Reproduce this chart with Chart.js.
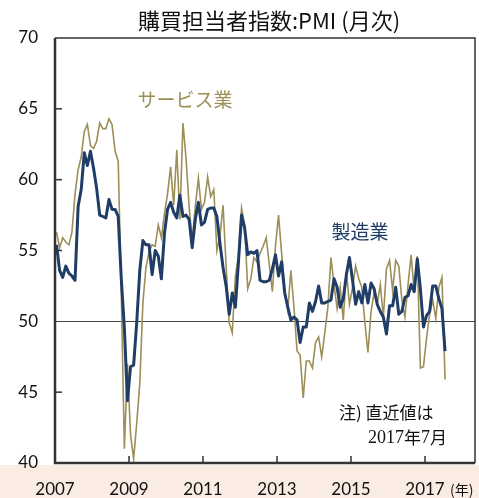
<!DOCTYPE html>
<html><head><meta charset="utf-8">
<script src="https://cdn.jsdelivr.net/npm/chart.js@4"></script>
<style>html,body{margin:0;padding:0;background:#fff}#wrap{width:479px;height:498px}</style>
</head><body><div id="wrap"><canvas id="c" width="479" height="498"></canvas></div>
<script>
const startYear = 2007;
const yearTicks = [2007, 2009, 2011, 2013, 2015, 2017];
const yTicks = [40, 45, 50, 55, 60, 65, 70];
const titleText = "購買担当者指数:PMI (月次)";
const seriesNames = ["製造業", "サービス業"];
// Monthly, Jan 2007 - Jul 2017
const manufacturing = [
  55.4, 53.6, 53.1, 53.9, 53.4, 53.2, 52.9, 58.1, 59.3, 61.9, 61.0, 62.0,
  60.8, 59.4, 57.5, 57.4, 57.3, 58.6, 57.9, 57.9, 57.4, 53.0, 49.5, 44.4,
  46.8, 46.9, 49.9, 53.6, 55.7, 55.4, 55.4, 53.3, 55.0, 54.6, 53.0, 56.2,
  57.9, 58.4, 57.7, 57.3, 58.9, 57.4, 57.5, 57.2, 55.2, 57.2, 58.4, 56.8,
  57.0, 57.9, 58.0, 58.0, 57.4, 55.5, 53.8, 52.5, 50.5, 52.0, 51.0, 54.2,
  57.5, 56.6, 54.7, 54.9, 54.8, 55.0, 52.9, 52.8, 52.8, 52.9, 53.7, 54.7,
  53.2, 54.2, 52.0, 51.0, 50.1, 50.3, 50.1, 48.5, 49.6, 49.6, 51.3, 50.7,
  51.4, 52.5, 51.3, 51.3, 51.4, 51.5, 53.0, 52.4, 51.0, 51.6, 53.3, 54.5,
  52.9, 51.2, 52.1, 51.3, 52.6, 51.3, 52.7, 52.3, 51.2, 50.7, 50.3, 49.1,
  51.1, 51.1, 52.4, 50.5, 50.7, 51.7, 51.8, 52.6, 52.1, 54.4, 52.3, 49.6,
  50.4, 50.7, 52.5, 52.5, 51.6, 50.9, 47.9
];
const services = [
  56.3, 55.2, 55.9, 55.6, 55.4, 56.3, 59.0, 60.7, 61.6, 63.4, 63.9, 62.4,
  62.2, 62.7, 64.0, 63.6, 63.6, 64.3, 63.9, 62.0, 61.3, 52.0, 41.0, 47.0,
  42.0, 40.3, 42.8, 45.6, 51.3, 53.8, 54.9, 55.4, 55.3, 56.8, 55.9, 57.6,
  59.0, 60.9, 58.2, 62.1, 57.2, 64.0, 61.5, 58.1, 55.7, 58.1, 60.1, 57.9,
  58.4, 60.2, 58.8, 59.3, 55.0, 56.0, 58.2, 53.9, 49.9, 49.2, 53.2, 54.6,
  58.0, 56.8, 52.3, 53.0, 54.5, 54.2, 54.8, 55.3, 55.9, 54.0, 52.1, 55.3,
  57.5, 54.8, 52.2, 50.8, 53.6, 51.0, 47.9, 47.6, 44.6, 47.2, 47.2, 46.7,
  48.5, 48.9, 47.5, 49.2, 51.0, 54.5, 52.6, 50.9, 52.4, 50.1, 53.5, 51.2,
  52.4, 53.9, 53.0, 52.4, 49.9, 47.8, 50.7, 52.0, 51.2, 52.6, 50.3, 53.7,
  54.3, 52.2, 54.3, 53.9, 51.5, 50.3, 52.6, 54.7, 52.1, 54.6, 46.7, 46.8,
  48.8, 50.5, 51.5, 50.2, 52.4, 53.1, 45.9
];

const NAVY = "#1f3d66";
const OLIVE = "#9c8f58";
const toPts = arr => arr.map((v, i) => ({ x: startYear + (i + 0.5) / 12, y: v }));

const deco = {
  id: "deco",
  beforeDraw(chart) {
    const c = chart.ctx;
    c.save();
    c.fillStyle = "#ffffff";
    c.fillRect(0, 0, chart.width, chart.height);
    c.fillStyle = "#faece2";
    c.fillRect(0, 465, chart.width, chart.height - 465);
    c.restore();
  },
  beforeDatasetsDraw(chart) {
    const c = chart.ctx, a = chart.chartArea, y = chart.scales.y;
    c.save();
    c.strokeStyle = "#444";
    c.lineWidth = 1;
    const py = Math.round(y.getPixelForValue(50)) + 0.5;
    c.beginPath(); c.moveTo(a.left, py); c.lineTo(a.right, py); c.stroke();
    c.restore();
  },
  afterDraw(chart) {
    const c = chart.ctx, a = chart.chartArea, xs = chart.scales.x, ys = chart.scales.y;
    c.save();
    c.strokeStyle = "#333";
    c.lineWidth = 1.5;
    c.beginPath();
    c.moveTo(a.left, a.top); c.lineTo(a.right, a.top); c.lineTo(a.right, a.bottom);
    c.stroke();
    c.lineWidth = 2.5;
    c.beginPath();
    c.moveTo(a.left, a.top); c.lineTo(a.left, a.bottom); c.lineTo(a.right, a.bottom);
    c.stroke();
    c.lineWidth = 1.5;
    yTicks.forEach(v => {
      if (v === 40 || v === 70 || v === 50) return;
      const py = ys.getPixelForValue(v);
      c.beginPath(); c.moveTo(a.left, py); c.lineTo(a.left + 7, py); c.stroke();
    });
    yearTicks.forEach(v => {
      if (v === startYear) return;
      const px = xs.getPixelForValue(v);
      c.beginPath(); c.moveTo(px, a.bottom); c.lineTo(px, a.bottom - 7); c.stroke();
    });
    c.fillStyle = "#111";
    c.textAlign = "center"; c.textBaseline = "middle";
    c.font = "22px 'Noto Sans CJK JP'";
    c.fillText(titleText, 269, 21);
    c.font = "14px 'Noto Sans CJK JP'";
    c.textAlign = "left";
    c.fillText("(年)", 450, 490);
    c.font = "19px 'Noto Sans CJK JP'";
    c.fillStyle = OLIVE;
    c.textAlign = "center";
    c.fillText(seriesNames[1], 185, 100);
    c.fillStyle = NAVY;
    c.fillText(seriesNames[0], 360, 232);
    c.fillStyle = "#111";
    c.font = "17px 'Noto Sans CJK JP'";
    c.textAlign = "left";
    c.fillText("注) 直近値は", 339, 413);
    let x = 368;
    const parts = [["2017", "18px 'Liberation Serif'"], ["年", "17px 'Noto Sans CJK JP'"],
                   ["7", "18px 'Liberation Serif'"], ["月", "17px 'Noto Sans CJK JP'"]];
    parts.forEach(([t, f]) => { c.font = f; c.fillText(t, x, 438); x += c.measureText(t).width; });
    c.restore();
  }
};

new Chart(document.getElementById("c"), {
  type: "line",
  data: {
    datasets: [
      { label: seriesNames[0], data: toPts(manufacturing), borderColor: NAVY, borderWidth: 3,
        pointRadius: 0, tension: 0, order: 0, borderJoinStyle: "round" },
      { label: seriesNames[1], data: toPts(services), borderColor: OLIVE, borderWidth: 1.6,
        pointRadius: 0, tension: 0, order: 1 }
    ]
  },
  options: {
    responsive: false,
    animation: false,
    devicePixelRatio: 1,
    layout: { padding: { left: 0, right: 4, top: 38, bottom: 0 } },
    plugins: { legend: { display: false }, tooltip: { enabled: false }, title: { display: false } },
    scales: {
      x: {
        type: "linear", min: 2007, max: 2007 + 420 / 37,
        afterBuildTicks: s => { s.ticks = yearTicks.map(v => ({ value: v })); },
        afterFit: s => { s.height = 35; },
        grid: { display: false, drawTicks: false },
        border: { display: false },
        ticks: { padding: 16, color: "#111", font: { family: "Lato", size: 17 }, maxRotation: 0, autoSkip: false,
                 callback: v => String(v) }
      },
      y: {
        min: 40, max: 70,
        afterBuildTicks: s => { s.ticks = yTicks.map(v => ({ value: v })); },
        afterFit: s => { s.width = 55; },
        grid: { display: false, drawTicks: false },
        border: { display: false },
        ticks: { padding: 17, color: "#111", font: { family: "Lato", size: 17 } }
      }
    }
  },
  plugins: [deco]
});
</script></body></html>
